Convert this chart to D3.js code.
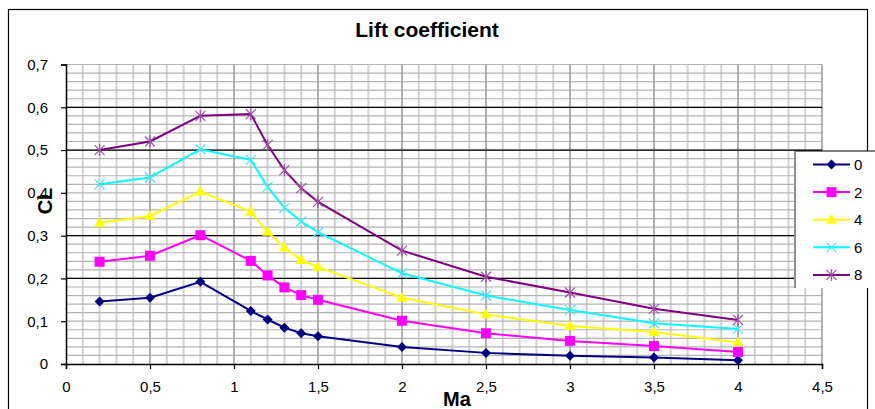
<!DOCTYPE html>
<html><head><meta charset="utf-8">
<script src="https://cdn.jsdelivr.net/npm/d3@7"></script>
<style>body{margin:0;background:#fff}svg{display:block}text{font-family:Arial,"Liberation Sans",sans-serif}</style>
</head><body>
<svg id="c" width="875" height="409"></svg>
<script>
const mach = [0.2, 0.5, 0.8, 1.1, 1.2, 1.3, 1.4, 1.5, 2, 2.5, 3, 3.5, 4];
const cl0 = [0.146, 0.155, 0.192, 0.124, 0.104, 0.085, 0.072, 0.065, 0.040, 0.026, 0.019, 0.015, 0.009];
const cl2 = [0.239, 0.253, 0.301, 0.241, 0.207, 0.179, 0.161, 0.150, 0.101, 0.072, 0.054, 0.042, 0.028];
const cl4 = [0.330, 0.346, 0.403, 0.356, 0.309, 0.272, 0.243, 0.227, 0.155, 0.116, 0.089, 0.075, 0.050];
const cl6 = [0.420, 0.436, 0.502, 0.477, 0.414, 0.365, 0.333, 0.308, 0.212, 0.160, 0.126, 0.095, 0.082];
const cl8 = [0.500, 0.520, 0.580, 0.584, 0.512, 0.453, 0.411, 0.379, 0.265, 0.204, 0.167, 0.129, 0.103];
const seriesNames = ["0", "2", "4", "6", "8"];
const xTicks = [0, 0.5, 1, 1.5, 2, 2.5, 3, 3.5, 4, 4.5];
const yTicks = [0, 0.1, 0.2, 0.3, 0.4, 0.5, 0.6, 0.7];

const svg = d3.select("#c");
const x = d3.scaleLinear().domain([0, 4.5]).range([66, 822]);
const y = d3.scaleLinear().domain([0, 0.7]).range([364, 64.5]);
const fmt = v => (Math.round(v * 10) / 10).toString().replace(".", ",");

// outer border
svg.append("rect").attr("x", 8.5).attr("y", 9.5).attr("width", 859).attr("height", 410)
  .attr("fill", "#fff").attr("stroke", "#000").attr("stroke-width", 1.2);

// title
svg.append("text").attr("x", 427).attr("y", 37).attr("text-anchor", "middle")
  .attr("font-size", 21).attr("font-weight", "bold").text("Lift coefficient");

const g = svg.append("g");
// minor vertical grid
const minorX = d3.range(1, 45).map(i => i / 10).filter(v => Math.abs(v * 2 - Math.round(v * 2)) > 1e-6);
g.selectAll(".vx").data(minorX).join("line")
  .attr("x1", d => x(d)).attr("x2", d => x(d)).attr("y1", y(0.7)).attr("y2", y(0))
  .attr("stroke", "#d2d2d2").attr("stroke-width", 2);
// minor horizontal grid
const minorY = d3.range(1, 36).map(i => i / 50);
g.selectAll(".hy").data(minorY).join("line")
  .attr("x1", x(0)).attr("x2", x(4.5)).attr("y1", d => y(d)).attr("y2", d => y(d))
  .attr("stroke", "#b4b4b4").attr("stroke-width", 1.2);
// major vertical
g.selectAll(".vX").data(xTicks.filter(v => v > 0)).join("line")
  .attr("x1", d => x(d)).attr("x2", d => x(d)).attr("y1", y(0.7)).attr("y2", y(0))
  .attr("stroke", "#a0a0a0").attr("stroke-width", 1.6);
// major horizontal black
g.selectAll(".hY").data([0.2, 0.3, 0.5, 0.6]).join("line")
  .attr("x1", x(0)).attr("x2", x(4.5)).attr("y1", d => y(d)).attr("y2", d => y(d))
  .attr("stroke", "#000").attr("stroke-width", 1.3);

// axes
const xa = svg.append("g").attr("transform", `translate(0,${y(0)})`)
  .call(d3.axisBottom(x).tickValues(xTicks).tickSize(5).tickFormat(fmt));
const ya = svg.append("g").attr("transform", `translate(${x(0)},0)`)
  .call(d3.axisLeft(y).tickValues(yTicks).tickSize(5).tickFormat(fmt));
[xa, ya].forEach(a => {
  a.select(".domain").attr("stroke", "#000").attr("stroke-width", 1.5);
  a.selectAll(".tick line").attr("stroke", "#000").attr("stroke-width", 1.2);
  a.selectAll("text").attr("font-size", 15).attr("fill", "#000").attr("font-family", "Arial, 'Liberation Sans', sans-serif");
});
xa.selectAll("text").attr("dy", "0").attr("y", 28);
ya.selectAll("text").attr("x", -18);

// axis titles
svg.append("text").attr("transform", "translate(52,201) rotate(-90)").attr("text-anchor", "middle")
  .attr("font-size", 20).attr("font-weight", "bold").text("CL");
svg.append("text").attr("x", 457).attr("y", 406).attr("text-anchor", "middle")
  .attr("font-size", 20).attr("font-weight", "bold").text("Ma");

// series
const series = [
  {name: seriesNames[0], vals: cl0, color: "#000080", mcolor: "#000080", marker: "diamond"},
  {name: seriesNames[1], vals: cl2, color: "#ff00ff", mcolor: "#ff00ff", marker: "square"},
  {name: seriesNames[2], vals: cl4, color: "#ffff00", mcolor: "#ffff00", marker: "triangle"},
  {name: seriesNames[3], vals: cl6, color: "#00ffff", mcolor: "#40e8f0", marker: "x"},
  {name: seriesNames[4], vals: cl8, color: "#800080", mcolor: "#a050a8", marker: "star"}
];
const line = d3.line().x(d => x(d[0])).y(d => y(d[1]));

function drawMarker(sel, type, color) {
  if (type === "diamond") {
    sel.append("path").attr("d", "M0,-5L5,0L0,5L-5,0Z").attr("fill", color);
  } else if (type === "square") {
    sel.append("rect").attr("x", -5).attr("y", -5).attr("width", 10).attr("height", 10).attr("fill", color);
  } else if (type === "triangle") {
    sel.append("path").attr("d", "M0,-6L5.5,4L-5.5,4Z").attr("fill", color);
  } else if (type === "x") {
    sel.append("path").attr("d", "M-5,-5L5,5M-5,5L5,-5").attr("stroke", color).attr("stroke-width", 1.2);
  } else {
    sel.append("path").attr("d", "M-5,-5L5,5M-5,5L5,-5M0,-6L0,6").attr("stroke", color).attr("stroke-width", 1.2);
  }
}

series.forEach(s => {
  const pts = mach.map((m, i) => [m, s.vals[i]]);
  svg.append("path").attr("d", line(pts)).attr("fill", "none")
    .attr("stroke", s.color).attr("stroke-width", 2);
  svg.append("g").selectAll("g").data(pts).join("g")
    .attr("transform", d => `translate(${x(d[0])},${y(d[1])})`)
    .each(function() { drawMarker(d3.select(this), s.marker, s.mcolor); });
});

// legend
const lg = svg.append("g");
lg.append("rect").attr("x", 795).attr("y", 151).attr("width", 80).attr("height", 137).attr("fill", "#fff");
lg.append("line").attr("x1", 795).attr("x2", 875).attr("y1", 151).attr("y2", 151).attr("stroke", "#000").attr("stroke-width", 1.2);
lg.append("line").attr("x1", 795).attr("x2", 795).attr("y1", 151).attr("y2", 288).attr("stroke", "#909090").attr("stroke-width", 2);
series.forEach((s, i) => {
  const yy = 164.5 + i * 27.6;
  lg.append("line").attr("x1", 813).attr("x2", 850).attr("y1", yy).attr("y2", yy)
    .attr("stroke", s.color).attr("stroke-width", 2);
  const m = lg.append("g").attr("transform", `translate(831.5,${yy})`);
  drawMarker(m, s.marker, s.mcolor);
  lg.append("text").attr("x", 854).attr("y", yy + 5.5).attr("font-size", 15).text(s.name);
});
</script>
</body></html>
